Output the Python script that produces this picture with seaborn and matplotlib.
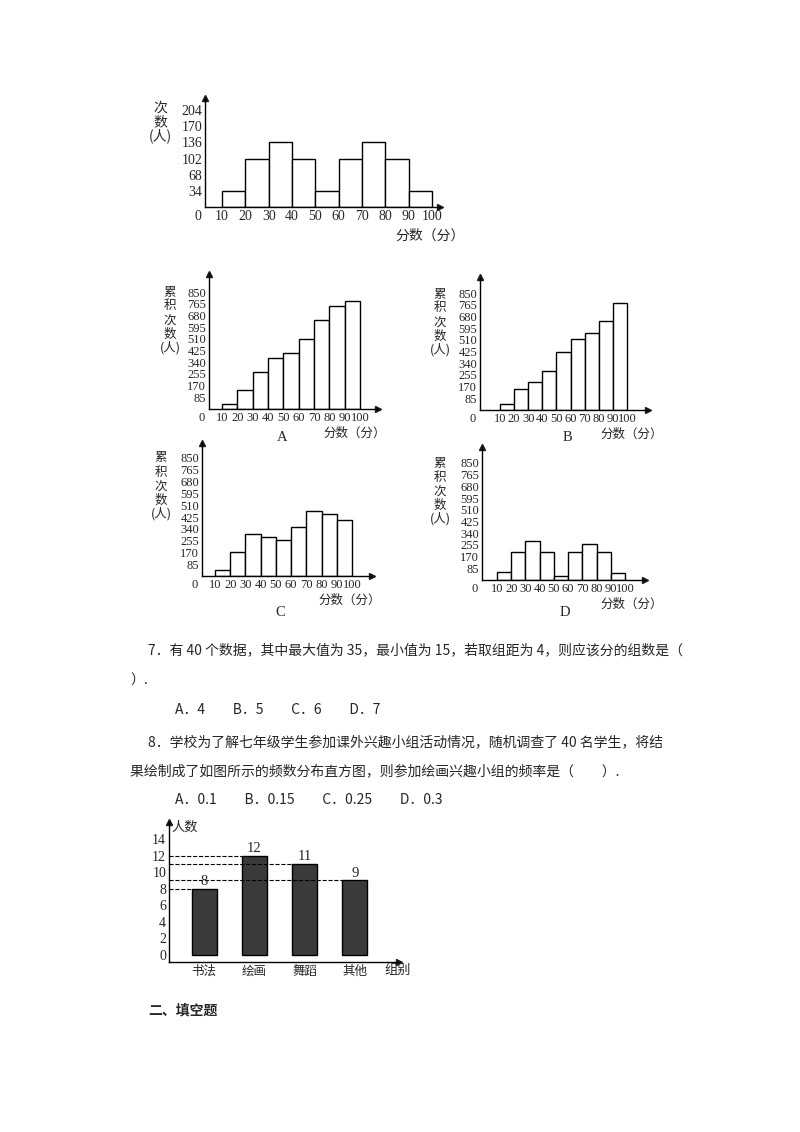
import matplotlib
matplotlib.use("Agg")
import matplotlib.pyplot as plt
import seaborn as sns
import numpy as np

sns.set_theme(style="white")
plt.rcParams['font.family'] = ['Liberation Serif', 'Noto Sans CJK SC', 'DejaVu Sans']

# data
edges = [10, 20, 30, 40, 50, 60, 70, 80, 90, 100]
mids = [15, 25, 35, 45, 55, 65, 75, 85, 95]
freq_top = [34, 102, 136, 102, 34, 102, 136, 102, 34]
top_ticks = [34, 68, 102, 136, 170, 204]
cum_ticks = [85, 170, 255, 340, 425, 510, 595, 680, 765, 850]
freq_a = [34, 136, 272, 374, 408, 510, 646, 748, 782]
freq_b = [40, 150, 205, 285, 425, 515, 560, 650, 780]
freq_c = [40, 170, 300, 280, 260, 350, 465, 445, 400]
freq_d = [55, 204, 280, 204, 30, 204, 265, 204, 50]
groups = ["书法", "绘画", "舞蹈", "其他"]
counts = [8, 12, 11, 9]
count_ticks = [0, 2, 4, 6, 8, 10, 12, 14]

W, H = 800, 1132
fig = plt.figure(figsize=(8, 11.32), dpi=100)
CJK = ['Noto Sans CJK SC', 'DejaVu Sans']


def px_axes(ox, oy, xend, ytop):
    return fig.add_axes([ox / W, 1 - oy / H, (xend - ox) / W, (oy - ytop) / H])


def arrows(ax):
    for s in ["top", "right"]:
        ax.spines[s].set_visible(False)
    for s in ["left", "bottom"]:
        ax.spines[s].set_color("black")
        ax.spines[s].set_linewidth(1)
    ax.plot(1, 0, ">k", ms=5, transform=ax.transAxes, clip_on=False)
    ax.plot(0, 1, "^k", ms=5, transform=ax.transAxes, clip_on=False)
    ax.tick_params(length=0, pad=2)
    ax.set_xlabel("")
    ax.set_ylabel("")


def vlabel(chars, x, y, fs, step):
    for k, c in enumerate(chars):
        fig.text(x / W, 1 - (y + k * step) / H, c, fontsize=fs, family=CJK,
                 ha="center", va="center")


def hist_panel(vals, ox, oy, xend, ytop, x10, x100, ytick_px, ytick_val, yticks, fs, ylab, letter=None, xl_pos=None):
    ax = px_axes(ox, oy, xend, ytop)
    s = (x100 - x10) / 90
    ax.set_xlim(10 - (x10 - ox) / s, 10 + (xend - x10) / s)
    sy = (oy - ytick_px) / ytick_val
    ax.set_ylim(0, (oy - ytop) / sy)
    sns.histplot(x=mids, weights=vals, bins=edges, ax=ax, color="white",
                 edgecolor="black", linewidth=1, alpha=1)
    ax.set_xticks(edges)
    ax.set_xticklabels([str(e) for e in edges], fontsize=fs)
    ax.set_yticks(yticks)
    ax.set_yticklabels([str(t) for t in yticks], fontsize=fs)
    arrows(ax)
    fig.text((ox - 4) / W, 1 - (oy + 3) / H, "0", fontsize=fs, ha="right", va="top")
    vlabel(ylab[0], ylab[1], ylab[2], fs, 14)
    fig.text(xl_pos[0] / W, 1 - xl_pos[1] / H, "分数（分）", fontsize=fs, family=CJK,
             ha="center", va="center")
    if letter:
        fig.text(letter[1] / W, 1 - letter[2] / H, letter[0], fontsize=10.5,
                 ha="center", va="center")
    return ax


hist_panel(freq_top, 205, 207, 440, 98, 222, 432, 110, 204, top_ticks, 10,
           (["次", "数", "(人)"], 160, 108), xl_pos=(430, 236))
lab = ["累", "积", "次", "数", "(人)"]
hist_panel(freq_a, 209, 409, 378, 274, 222, 360, 292, 850, cum_ticks, 9,
           (lab, 170, 292), ("A", 282, 437), (355, 433))
hist_panel(freq_b, 480, 410, 648, 277, 500, 627, 293, 850, cum_ticks, 9,
           (lab, 440, 294), ("B", 567, 437), (632, 434))
hist_panel(freq_c, 202, 576, 372, 443, 215, 352, 458, 850, cum_ticks, 9,
           (lab, 161, 458), ("C", 280, 613), (350, 600))
hist_panel(freq_d, 482, 580, 645, 447, 497, 625, 463, 850, cum_ticks, 9,
           (lab, 440, 463), ("D", 565, 613), (632, 604))

# bar chart
ax = px_axes(169, 962, 399, 822)
sns.barplot(x=groups, y=counts, ax=ax, color="#3a3a3a", edgecolor="black",
            linewidth=1, width=0.5, saturation=1)
ax.set_xlim(-0.7, 3.88)
ax.set_ylim(-0.84, 16.05)
ax.set_yticks(count_ticks)
ax.set_yticklabels([str(t) for t in count_ticks], fontsize=10)
ax.set_xticks(range(4))
ax.set_xticklabels(groups, fontsize=9, family=CJK)
arrows(ax)
for i, v in enumerate(counts):
    ax.text(i, v + 0.1, str(v), ha="center", va="bottom", fontsize=10.5)
    ax.plot([-0.7, i - 0.25], [v, v], ls="--", color="black", lw=0.8)
fig.text(185 / W, 1 - 827 / H, "人数", fontsize=9.5, family=CJK, ha="center", va="center")
fig.text(398 / W, 1 - 970 / H, "组别", fontsize=9.5, family=CJK, ha="center", va="center")

# question text
body = dict(fontsize=10, family=CJK, va="center")
fig.text(148 / W, 1 - 650 / H, "7．有 40 个数据，其中最大值为 35，最小值为 15，若取组距为 4，则应该分的组数是（", **body)
fig.text(130 / W, 1 - 681 / H, "）.", **body)
fig.text(175 / W, 1 - 710 / H, "A．4　　B．5　　C．6　　D．7", **body)
fig.text(148 / W, 1 - 742 / H, "8．学校为了解七年级学生参加课外兴趣小组活动情况，随机调查了 40 名学生，将结", **body)
fig.text(130 / W, 1 - 771 / H, "果绘制成了如图所示的频数分布直方图，则参加绘画兴趣小组的频率是（　　）.", **body)
fig.text(175 / W, 1 - 800 / H, "A．0.1　　B．0.15　　C．0.25　　D．0.3", **body)
fig.text(148 / W, 1 - 1010 / H, "二、填空题", fontsize=10, family=CJK, va="center", weight="bold")

fig.savefig("out.png", dpi=100)
